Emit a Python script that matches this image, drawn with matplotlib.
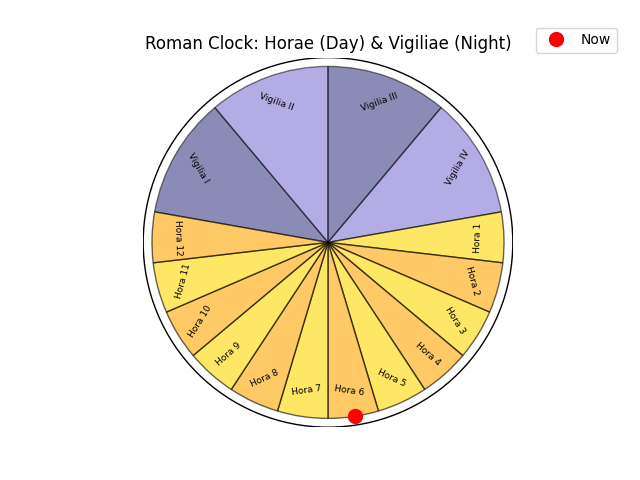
import numpy as np
import matplotlib.pyplot as plt
from matplotlib.patches import Wedge, Circle

# watch / hour boundaries, degrees (counter-clockwise from east)
night_labels = ["Vigilia I", "Vigilia II", "Vigilia III", "Vigilia IV"]
night_starts = [130, 90, 50, 10]
night_ends = [170, 130, 90, 50]
night_colors = ["midnightblue", "slateblue", "midnightblue", "slateblue"]

day_labels = [f"Hora {i}" for i in range(1, 13)]
sunrise_deg = 10.0
sunset_deg = -190.0
day_colors = ["gold", "orange"] * 6

now_deg = -81.2

fig, ax = plt.subplots(figsize=(6.4, 4.8))


def add_label(text, mid):
    r = 0.85
    x = r * np.cos(np.radians(mid))
    y = r * np.sin(np.radians(mid))
    rot = (90 - mid) % 360
    if rot > 180:
        rot -= 360
    if rot > 90:
        rot -= 180
    elif rot <= -90:
        rot += 180
    ax.text(x, y, text, rotation=rot, ha="center", va="center", fontsize=6.5)


# night watches
for lab, s, e, c in zip(night_labels, night_starts, night_ends, night_colors):
    ax.add_patch(Wedge((0, 0), 1, s, e, facecolor=c, edgecolor="black", alpha=0.5))
    add_label(lab, (s + e) / 2)

# day hours
step = (sunrise_deg - sunset_deg) / 12
for i, (lab, c) in enumerate(zip(day_labels, day_colors)):
    t1 = sunrise_deg - i * step
    t2 = t1 - step
    ax.add_patch(Wedge((0, 0), 1, t2, t1, facecolor=c, edgecolor="black", alpha=0.6))
    add_label(lab, (t1 + t2) / 2)

ax.add_patch(Circle((0, 0), 1.05, fill=False, edgecolor="black", linewidth=1))

ax.plot(np.cos(np.radians(now_deg)), np.sin(np.radians(now_deg)), "o",
        color="red", markersize=10, label="Now")

ax.set_xlim(-1.05, 1.05)
ax.set_ylim(-1.05, 1.05)
ax.set_aspect("equal")
ax.axis("off")
ax.set_title("Roman Clock: Horae (Day) & Vigiliae (Night)")
ax.legend(loc="upper right", bbox_to_anchor=(1.3, 1.1))

plt.savefig("out.png", dpi=100)
